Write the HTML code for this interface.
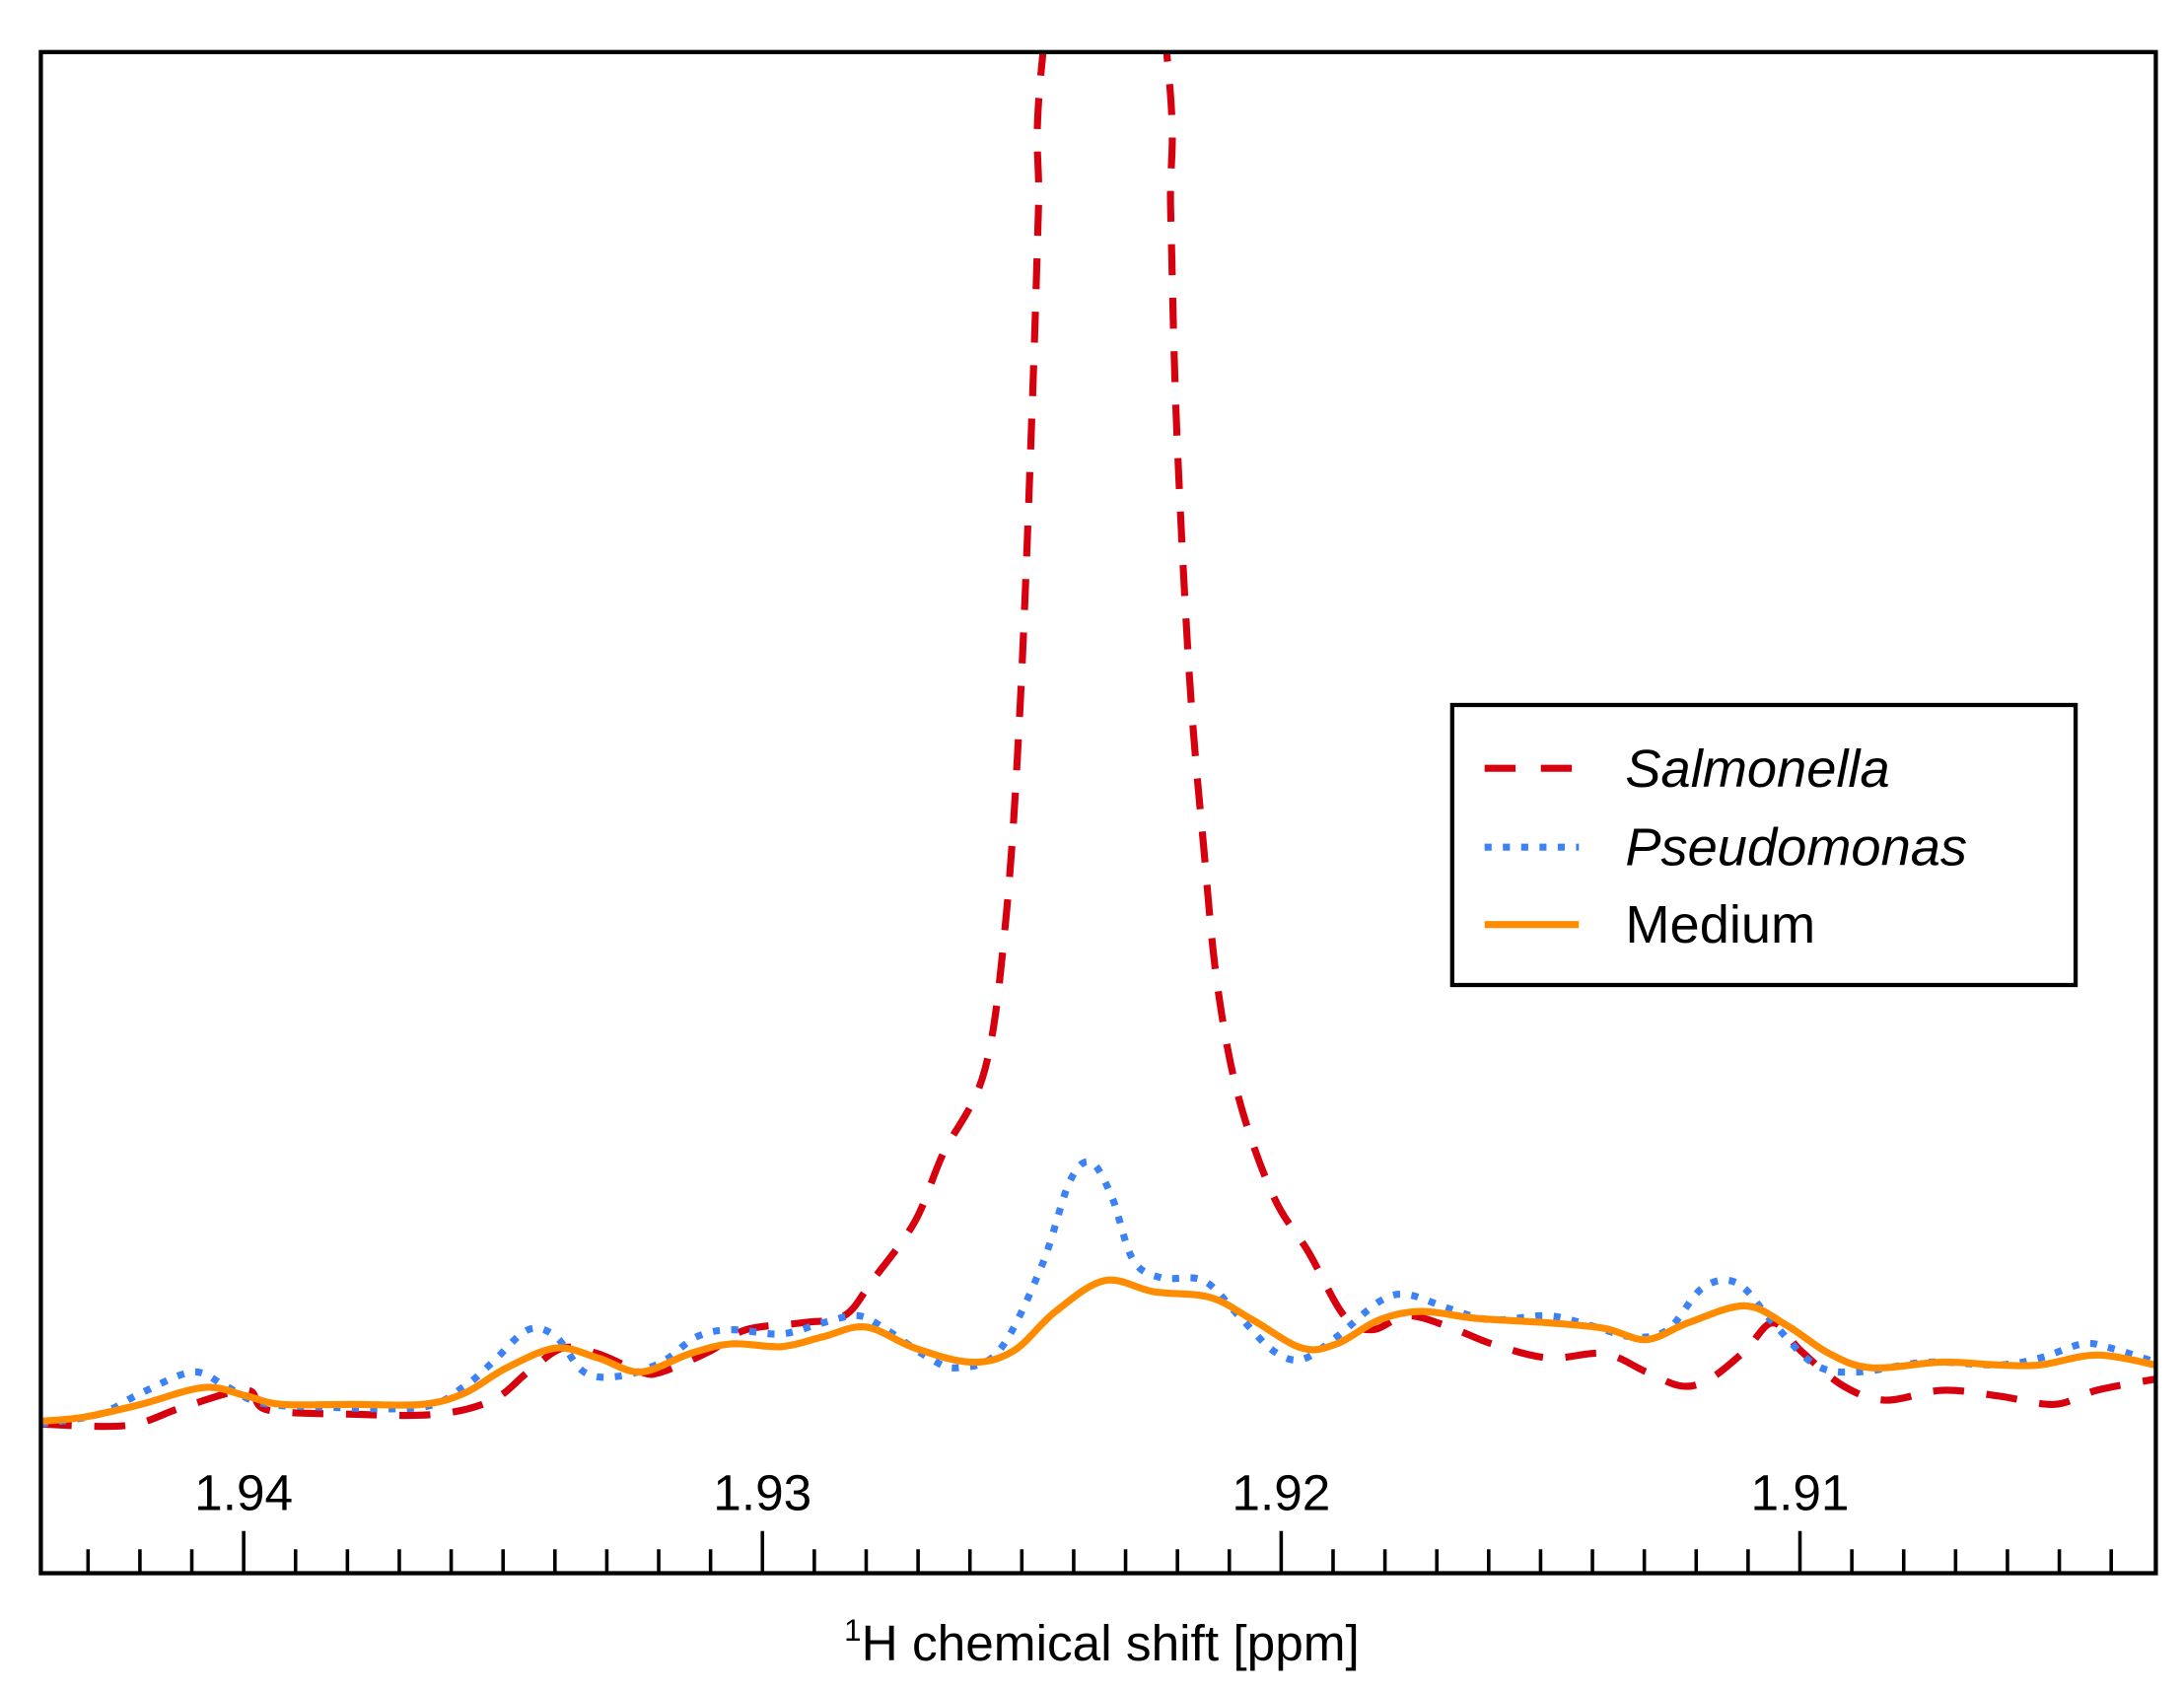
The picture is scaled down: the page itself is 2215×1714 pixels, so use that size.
<!DOCTYPE html>
<html><head><meta charset="utf-8"><style>html,body{margin:0;padding:0;background:#fff}svg{display:block}text{font-family:"Liberation Sans",sans-serif;fill:#000}</style></head>
<body>
<svg id="chart" width="2215" height="1714" viewBox="0 0 1552 1201" xmlns="http://www.w3.org/2000/svg">
<defs><clipPath id="plotclip"><rect x="29" y="37" width="1503" height="1081"/></clipPath></defs>
<g id="series" clip-path="url(#plotclip)"></g>
<g id="axis"></g>
<rect x="29" y="37" width="1503" height="1081" fill="none" stroke="#000" stroke-width="3"/>
<text x="783" y="1180" font-size="36" text-anchor="middle"><tspan font-size="22" dy="-14">1</tspan><tspan dy="14">H chemical shift [ppm]</tspan></text>
<g>
<rect x="1032" y="501" width="443" height="199" fill="#fff" stroke="#000" stroke-width="3"/>
<line x1="1055" y1="546" x2="1122" y2="546" stroke="#d7000f" stroke-width="5" stroke-dasharray="22,18"/>
<text x="1155" y="559" font-size="38" font-style="italic">Salmonella</text>
<line x1="1055" y1="602" x2="1122" y2="602" stroke="#3b82f6" stroke-width="5" stroke-dasharray="5,8"/>
<text x="1155" y="615" font-size="38" font-style="italic">Pseudomonas</text>
<line x1="1055" y1="657" x2="1122" y2="657" stroke="#ff8c00" stroke-width="5"/>
<text x="1155" y="670" font-size="38">Medium</text>
</g>
</svg>
<script>
const salShift=[1.94391,1.94225,1.94117,1.93995,1.93954,1.93791,1.93628,1.93520,1.93452,1.93385,1.93317,1.93235,1.93194,1.93100,1.93032,1.92923,1.92842,1.92788,1.92706,1.92652,1.92571,1.92530,1.92503,1.92481,1.92468,1.92459,1.92340,1.92221,1.92213,1.92202,1.92177,1.92150,1.92123,1.92082,1.92015,1.91947,1.91879,1.91825,1.91757,1.91676,1.91594,1.91486,1.91377,1.91296,1.91228,1.91174,1.91106,1.91052,1.90998,1.90916,1.90835,1.90726,1.90618,1.90509,1.90428,1.90314];
const salInt=[3,2,15,27,13,10,10,20,40,57,53,40,40,55,70,75,80,105,147,195,255,365,515,715,865,978,1315,978,865,715,535,415,315,235,165,125,80,70,80,72,60,50,53,40,30,35,55,75,55,30,20,27,23,17,27,35];
const psShift=[1.94391,1.94279,1.94198,1.94098,1.94035,1.93967,1.93845,1.93656,1.93574,1.93520,1.93452,1.93398,1.93344,1.93276,1.93194,1.93127,1.93059,1.92964,1.92883,1.92815,1.92761,1.92679,1.92625,1.92544,1.92462,1.92408,1.92367,1.92327,1.92286,1.92232,1.92150,1.92082,1.92015,1.91960,1.91893,1.91811,1.91757,1.91676,1.91594,1.91486,1.91404,1.91323,1.91255,1.91187,1.91120,1.91052,1.90970,1.90889,1.90754,1.90618,1.90537,1.90455,1.90401,1.90314];
const psInt=[3,10,25,40,30,18,15,15,30,47,70,65,40,37,47,65,70,67,75,80,70,50,43,55,115,175,189,165,120,107,105,80,55,49,65,90,95,85,77,80,73,65,70,100,103,75,45,40,47,45,50,60,57,47];
const medShift=[1.94391,1.94306,1.94198,1.94076,1.93995,1.93927,1.93791,1.93656,1.93574,1.93493,1.93398,1.93317,1.93235,1.93140,1.93059,1.92964,1.92883,1.92801,1.92706,1.92598,1.92516,1.92435,1.92340,1.92245,1.92137,1.92055,1.91960,1.91893,1.91811,1.91730,1.91621,1.91486,1.91377,1.91296,1.91215,1.91106,1.91025,1.90943,1.90862,1.90726,1.90618,1.90537,1.90428,1.90314];
const medInt=[5,8,17,29,23,17,17,17,25,43,57,50,40,53,60,58,65,72,57,47,55,83,105,97,93,77,57,60,77,83,78,75,71,63,75,87,73,53,43,47,45,45,52,45];
const majorTicks=[1.94,1.93,1.92,1.91];
const majorLabels=["1.94","1.93","1.92","1.91"];

const X0=29,X1=1532,P0=1.94391,P1=1.90314;
function xs(p){return X0+(P0-p)/(P0-P1)*(X1-X0);}
function ys(v){return 1015-v;}
function pathFor(sh,iv){
  const n=Math.min(sh.length,iv.length);
  const pts=[];
  for(let i=0;i<n;i++)pts.push([xs(sh[i]),ys(iv[i])]);
  let d="M"+pts[0][0].toFixed(1)+","+pts[0][1].toFixed(1);
  for(let i=0;i<pts.length-1;i++){
    const p0=pts[Math.max(0,i-1)],p1=pts[i],p2=pts[i+1],p3=pts[Math.min(pts.length-1,i+2)];
    const c1=[p1[0]+(p2[0]-p0[0])/6,p1[1]+(p2[1]-p0[1])/6];
    const c2=[p2[0]-(p3[0]-p1[0])/6,p2[1]-(p3[1]-p1[1])/6];
    d+=" C"+c1[0].toFixed(1)+","+c1[1].toFixed(1)+" "+c2[0].toFixed(1)+","+c2[1].toFixed(1)+" "+p2[0].toFixed(1)+","+p2[1].toFixed(1);
  }
  return d;
}
const NS="http://www.w3.org/2000/svg";
const g=document.getElementById("series");
function addLine(name,sh,iv,color,dash,cap){
  const p=document.createElementNS(NS,"path");
  p.setAttribute("d",pathFor(sh,iv));
  p.setAttribute("fill","none");
  p.setAttribute("stroke",color);
  p.setAttribute("stroke-width","5");
  if(dash)p.setAttribute("stroke-dasharray",dash);
  p.setAttribute("stroke-linecap",cap);
  
  
  g.appendChild(p);
}
addLine("salmonella-line",salShift,salInt,"#d7000f","22,16","butt");
addLine("pseudomonas-line",psShift,psInt,"#3b82f6","5,8","butt");
addLine("medium-line",medShift,medInt,"#ff8c00",null,"round");

const ax=document.getElementById("axis");
for(let k=1903;k<=1944;k++){
  const p=k/1000;
  const x=xs(p);
  if(x<X0+2||x>X1-2)continue;
  const major=(k%10===0);
  const t=document.createElementNS(NS,"line");
  t.setAttribute("x1",x);t.setAttribute("x2",x);
  t.setAttribute("y1",major?1088:1101);t.setAttribute("y2",1118);
  t.setAttribute("stroke","#000");t.setAttribute("stroke-width","2.5");
  
  
  ax.appendChild(t);
}
majorTicks.forEach((p,i)=>{
  const t=document.createElementNS(NS,"text");
  t.setAttribute("x",xs(p));t.setAttribute("y",1073);
  t.setAttribute("font-size","36");t.setAttribute("text-anchor","middle");
  t.textContent=majorLabels[i];
  
  
  ax.appendChild(t);
});
</script>
</body></html>
